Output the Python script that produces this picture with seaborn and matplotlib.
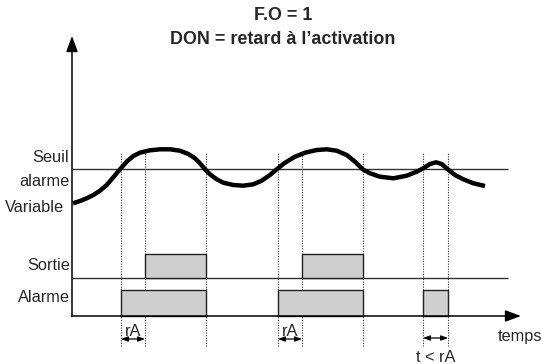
import matplotlib
matplotlib.use("Agg")
import matplotlib.pyplot as plt
import seaborn as sns

# variable curve (time, level); origin at the axes corner
curve_t = [1, 8, 14.7, 21.3, 28, 34.7, 41.3, 48, 54.7, 61.3, 68, 78, 88, 98, 108, 116.3, 123, 128,
           133, 138, 144.7, 151.3, 161.3, 171.3, 181.3, 189.7, 198, 204.7, 211.3, 214.7, 223, 233,
           244.7, 254.7, 264.7, 274.7, 283, 290.7, 298, 308, 321.3, 334.7, 344.7, 351.3, 358, 364,
           369.7, 375.7, 383, 391.3, 401.3, 413]
curve_v = [112.7, 115, 117.7, 121, 125.3, 131, 138.7, 146.7, 154.3, 160, 163.3, 165.7, 166.7, 166.7,
           165.3, 162, 157.7, 152.7, 146.7, 141.7, 136.7, 133.3, 131, 130.3, 131.7, 135.3, 141, 146.7,
           152, 154.3, 159.3, 163.3, 166, 166.7, 165.3, 161, 154.3, 146.7, 142.7, 139.3, 137.7, 140.3,
           144.3, 147.7, 152, 153.7, 152, 146.7, 141, 136.7, 132.7, 130]

threshold = 147
t_end = 436

# events
alarm_start = [49, 206, 351]
alarm_end = [134, 291, 376]
delay_rA = 24
output_start = [a + delay_rA for a in alarm_start[:2]]
output_end = alarm_end[:2]

alarm_base, alarm_high = 0, 26
out_base, out_high = 38, 62

sns.set_style("white")
plt.rcParams["font.family"] = ["Liberation Sans", "DejaVu Sans"]

fig = plt.figure(figsize=(5.42, 3.64), dpi=100)
ax = fig.add_axes([0, 0, 1, 1])
ax.set_xlim(-72, 470)
ax.set_ylim(-48, 316)
ax.axis("off")

# dotted event markers
for t in sorted(set(alarm_start + alarm_end + output_start)):
    ax.vlines(t, -30, 164, colors="#333333", linestyles=(0, (1, 1.3)), linewidth=0.8)

# threshold and output baseline
ax.hlines([threshold, out_base], 0, t_end, colors="#333333", linewidth=1.0)

# alarm and output blocks
ax.bar(alarm_start, alarm_high - alarm_base,
       width=[e - s for s, e in zip(alarm_start, alarm_end)],
       bottom=alarm_base, align="edge", color="#cfcfcf", edgecolor="#222222", linewidth=1.0, zorder=2)
ax.bar(output_start, out_high - out_base,
       width=[e - s for s, e in zip(output_start, output_end)],
       bottom=out_base, align="edge", color="#cfcfcf", edgecolor="#222222", linewidth=1.0, zorder=2)

# variable curve
sns.lineplot(x=curve_t, y=curve_v, ax=ax, color="black", linewidth=3.2,
             solid_capstyle="butt", zorder=3)

# axes arrows
ax.annotate("", xy=(0, 280), xytext=(0, -0.5),
            arrowprops=dict(arrowstyle="-|>,head_length=0.95,head_width=0.35", color="black", lw=1.1,
                            shrinkA=0, shrinkB=0))
ax.annotate("", xy=(449, 0), xytext=(-0.5, 0),
            arrowprops=dict(arrowstyle="-|>,head_length=0.95,head_width=0.35", color="black", lw=1.1,
                            shrinkA=0, shrinkB=0))

# rA markers
arr = dict(arrowstyle="<|-|>,head_length=0.4,head_width=0.15", color="black", lw=0.9, shrinkA=0, shrinkB=0)
for s in alarm_start[:2]:
    ax.annotate("", xy=(s, -23), xytext=(s + delay_rA, -23), arrowprops=arr)
    ax.text(s + delay_rA / 2, -16, "rA", ha="center", va="center", fontsize=11.8)
ax.annotate("", xy=(alarm_start[2], -22), xytext=(alarm_end[2], -22), arrowprops=arr)
ax.text((alarm_start[2] + alarm_end[2]) / 2, -41, "t < rA", ha="center", va="center", fontsize=11.8)

# labels
ax.text(-3, 159, "Seuil", ha="right", va="center", fontsize=11.8)
ax.text(-3, 135, "alarme", ha="right", va="center", fontsize=11.8)
ax.text(-8, 108, "Variable", ha="right", va="center", fontsize=11.8)
ax.text(-2, 50, "Sortie", ha="right", va="center", fontsize=11.8)
ax.text(-2, 19, "Alarme", ha="right", va="center", fontsize=11.8)
ax.text(448, -20, "temps", ha="center", va="center", fontsize=11.8)

ax.text(211, 301, "F.O = 1", ha="center", va="center", fontsize=12.9, fontweight="bold")
ax.text(211, 277, "DON = retard à l\u2019activation", ha="center", va="center", fontsize=12.9, fontweight="bold")

fig.savefig("out.png", dpi=100)
